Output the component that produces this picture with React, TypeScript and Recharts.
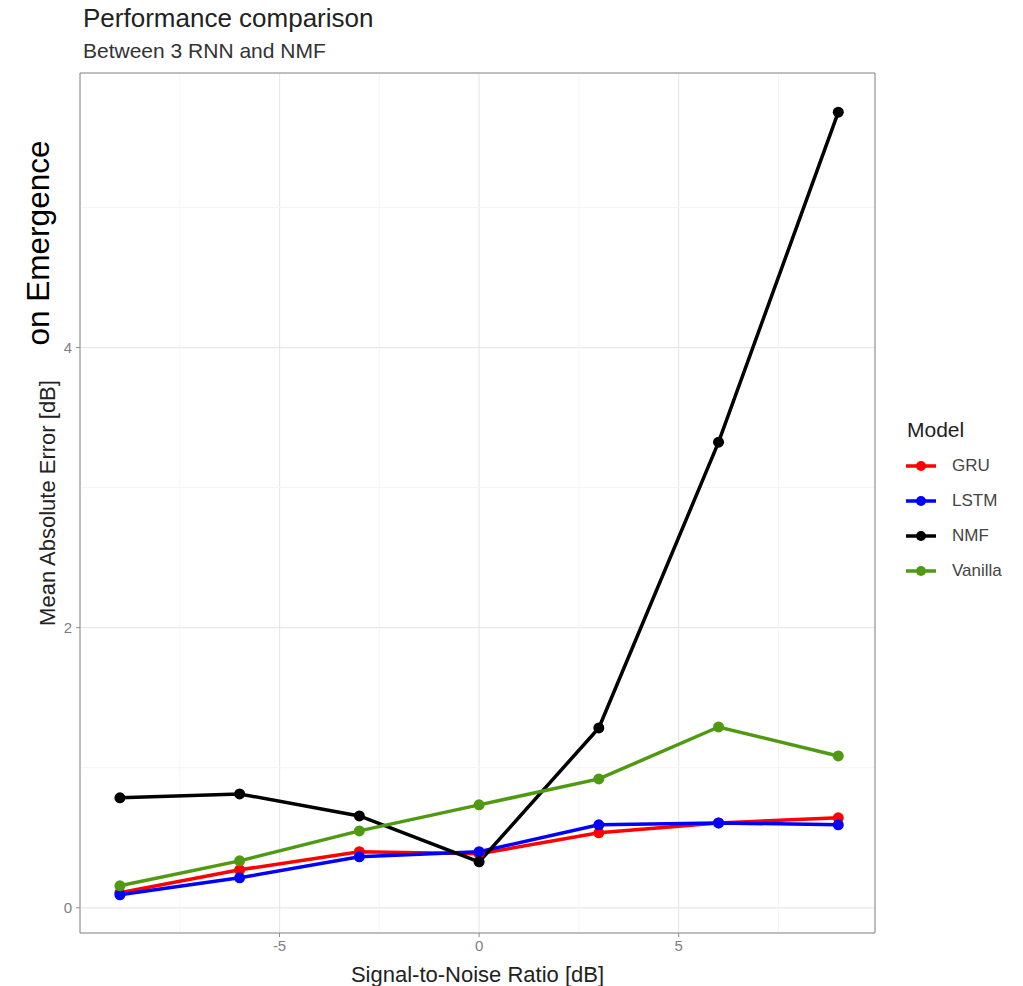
import { LineChart, Line, XAxis, YAxis, CartesianGrid, ReferenceLine } from 'recharts'

// Signal-to-noise levels (dB) and mean absolute error per model
const snr = [-9, -6, -3, 0, 3, 6, 9]
const gru = [0.107, 0.271, 0.4, 0.385, 0.535, 0.606, 0.642]
const lstm = [0.093, 0.214, 0.364, 0.4, 0.592, 0.606, 0.592]
const nmf = [0.785, 0.813, 0.656, 0.328, 1.284, 3.324, 5.68]
const vanilla = [0.157, 0.335, 0.549, 0.735, 0.92, 1.291, 1.084]

const xTicks = [-5, 0, 5]
const yTicks = [0, 2, 4]
const xMinor = [-7.5, -2.5, 2.5, 7.5]
const yMinor = [1, 3, 5]

const models = [
  { key: 'GRU', color: '#ff0000' },
  { key: 'LSTM', color: '#0000ff' },
  { key: 'NMF', color: '#000000' },
  { key: 'Vanilla', color: '#4f9a12' },
]

const data = snr.map((x, i) => ({
  snr: x,
  GRU: gru[i],
  LSTM: lstm[i],
  NMF: nmf[i],
  Vanilla: vanilla[i],
}))

const font = '"Liberation Sans", Arial, sans-serif'
const xDomain = [-10, 9.92]
const yDomain = [-0.18, 5.96]

function ModelLegend() {
  return (
    <div style={{ position: 'absolute', left: 905, top: 417, fontFamily: font }}>
      <div style={{ fontSize: 21, height: 31, lineHeight: '26px', color: '#222', marginLeft: 2 }}>Model</div>
      {models.map(m => (
        <div key={m.key} style={{ display: 'flex', alignItems: 'center', height: 35 }}>
          <svg width={32} height={14}>
            <line x1={1} x2={31} y1={7} y2={7} stroke={m.color} strokeWidth={3.5} />
            <circle cx={16} cy={7} r={5} fill={m.color} />
          </svg>
          <span style={{ fontSize: 17, marginLeft: 15, color: '#444' }}>{m.key}</span>
        </div>
      ))}
    </div>
  )
}

export default function App() {
  return (
    <div style={{ position: 'absolute', left: 0, top: 0, width: 1023, height: 986, background: '#fff', fontFamily: font }}>
      <div style={{ position: 'absolute', left: 83, top: 3, fontSize: 26, color: '#222', whiteSpace: 'nowrap' }}>Performance comparison</div>
      <div style={{ position: 'absolute', left: 83, top: 39, fontSize: 21, color: '#333', whiteSpace: 'nowrap' }}>Between 3 RNN and NMF</div>
      <div
        style={{
          position: 'absolute',
          left: 38,
          top: 243,
          transform: 'translate(-50%, -50%) rotate(-90deg)',
          fontSize: 31.5,
          color: '#000',
          whiteSpace: 'nowrap',
        }}
      >
        on Emergence
      </div>
      <LineChart
        width={1023}
        height={986}
        data={data}
        margin={{ top: 73, right: 148, bottom: 23, left: 50 }}
        style={{ fontFamily: font, position: 'absolute', left: 0, top: 0 }}
      >
        <CartesianGrid stroke="#e8e8e8" strokeWidth={1.2} />
        {xMinor.map(v => (
          <ReferenceLine key={'x' + v} x={v} stroke="#f4f4f4" strokeWidth={1} />
        ))}
        {yMinor.map(v => (
          <ReferenceLine key={'y' + v} y={v} stroke="#f4f4f4" strokeWidth={1} />
        ))}
        <XAxis
          dataKey="snr"
          type="number"
          domain={xDomain}
          ticks={xTicks}
          height={30}
          tickSize={4}
          tickMargin={3}
          stroke="#8a8a8a"
          tick={{ fill: '#808080', fontSize: 15 }}
          label={{ value: 'Signal-to-Noise Ratio [dB]', position: 'insideBottom', offset: -19, fill: '#222', fontSize: 22 }}
        />
        <YAxis
          type="number"
          domain={yDomain}
          ticks={yTicks}
          width={30}
          tickSize={4}
          tickMargin={4}
          stroke="#8a8a8a"
          tick={{ fill: '#808080', fontSize: 15 }}
          label={{ value: 'Mean Absolute Error [dB]', angle: -90, position: 'center', dx: -18, fill: '#222', fontSize: 22 }}
        />
        {/* panel border */}
        <ReferenceLine y={yDomain[1]} stroke="#8a8a8a" />
        <ReferenceLine x={xDomain[1]} stroke="#8a8a8a" />
        {models.map(m => (
          <Line
            key={m.key}
            dataKey={m.key}
            stroke={m.color}
            strokeWidth={3.5}
            dot={{ r: 5.5, fill: m.color, stroke: m.color, strokeWidth: 0 }}
            isAnimationActive={false}
          />
        ))}
      </LineChart>
      <ModelLegend />
    </div>
  )
}
